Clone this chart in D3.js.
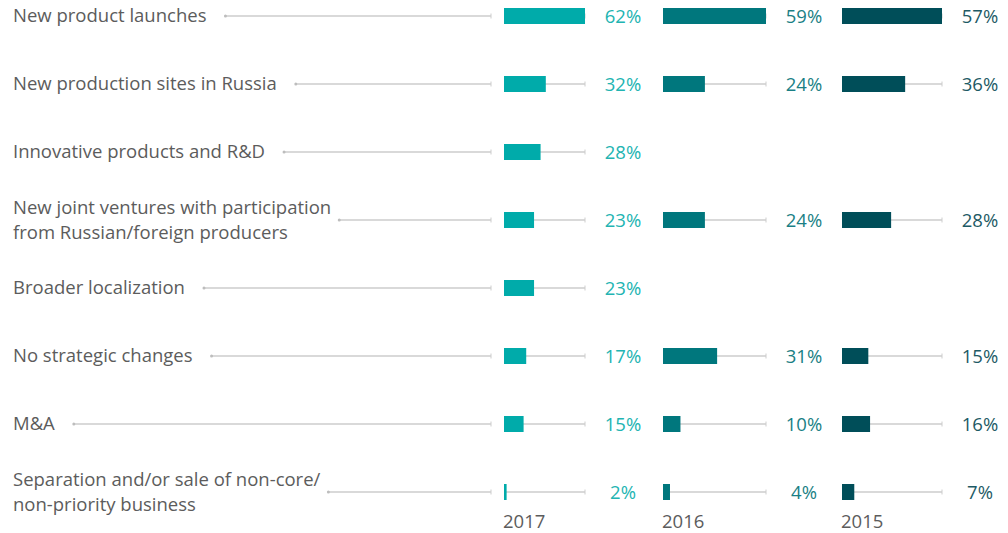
<!DOCTYPE html>
<html><head><meta charset="utf-8">
<script src="https://cdn.jsdelivr.net/npm/d3@7"></script>
<style>
html,body{margin:0;padding:0;background:#fff;}
svg{display:block;font-family:"Open Sans",sans-serif;}
</style></head>
<body>
<svg id="chart" width="1008" height="533"></svg>
<script>
const categories = [
  ["New product launches"],
  ["New production sites in Russia"],
  ["Innovative products and R&D"],
  ["New joint ventures with participation", "from Russian/foreign producers"],
  ["Broader localization"],
  ["No strategic changes"],
  ["M&A"],
  ["Separation and/or sale of non-core/", "non-priority business"]
];
const years = ["2017", "2016", "2015"];
const values2017 = [62, 32, 28, 23, 23, 17, 15, 2];
const values2016 = [59, 24, null, 24, null, 31, 10, 4];
const values2015 = [57, 36, null, 28, null, 15, 16, 7];
const seriesValues = [values2017, values2016, values2015];
const barColors = ["#00abaa", "#00777d", "#004e59"];
const textColors = ["#22b4b2", "#1a7f85", "#1d5a65"];

const svg = d3.select("#chart");
const fontSize = 18.5;

const y = d3.scalePoint().domain(d3.range(categories.length)).range([16, 492]);
const panelRanges = [[504, 585], [663, 766], [842, 942]];
const xScales = seriesValues.map((vals, i) =>
  d3.scaleLinear().domain([0, d3.max(vals)]).range(panelRanges[i]));

const trackColor = "#cdcdcd";
const leaderEnd = 491;

// category labels + leader lines
categories.forEach((lines, i) => {
  const cy = y(i);
  const g = svg.append("g");
  const t = g.append("text")
    .attr("x", 13)
    .attr("fill", "#5c5c5c")
    .attr("font-size", fontSize);
  let maxW = 0;
  lines.forEach((ln, j) => {
    const by = lines.length === 1 ? cy + 6 : cy - 6 + j * 25;
    const ts = t.append("tspan").attr("x", 13).attr("y", by).text(ln);
    maxW = Math.max(maxW, ts.node().getComputedTextLength());
  });
  const x0 = lines.length === 1 ? 13 + maxW + 19 : 13 + maxW + 8;
  g.append("line").attr("x1", x0).attr("x2", leaderEnd).attr("y1", cy).attr("y2", cy)
    .attr("stroke", trackColor).attr("stroke-width", 1.3);
  g.append("circle").attr("cx", x0).attr("cy", cy).attr("r", 1.5).attr("fill", "#bdbdbd");
  g.append("line").attr("x1", leaderEnd).attr("x2", leaderEnd).attr("y1", cy - 2.5).attr("y2", cy + 2.5)
    .attr("stroke", trackColor).attr("stroke-width", 1);
});

// panels
seriesValues.forEach((vals, s) => {
  const x = xScales[s];
  const [r0, r1] = x.range();
  const g = svg.append("g");
  vals.forEach((v, i) => {
    if (v == null) return;
    const cy = y(i);
    g.append("line").attr("x1", r0).attr("x2", r1).attr("y1", cy).attr("y2", cy)
      .attr("stroke", trackColor).attr("stroke-width", 1.3);
    g.append("line").attr("x1", r1).attr("x2", r1).attr("y1", cy - 2.5).attr("y2", cy + 2.5)
      .attr("stroke", trackColor).attr("stroke-width", 1);
    g.append("rect").attr("x", x(0)).attr("y", cy - 8)
      .attr("width", x(v) - x(0)).attr("height", 16)
      .attr("fill", barColors[s]);
    g.append("text").attr("x", r1 + 38).attr("y", cy + 7)
      .attr("text-anchor", "middle").attr("font-size", fontSize)
      .attr("fill", textColors[s]).text(v + "%");
  });
  g.append("text").attr("x", r0 - 1).attr("y", 528)
    .attr("font-size", fontSize).attr("fill", "#5c5c5c").text(years[s]);
});
</script>
</body></html>
